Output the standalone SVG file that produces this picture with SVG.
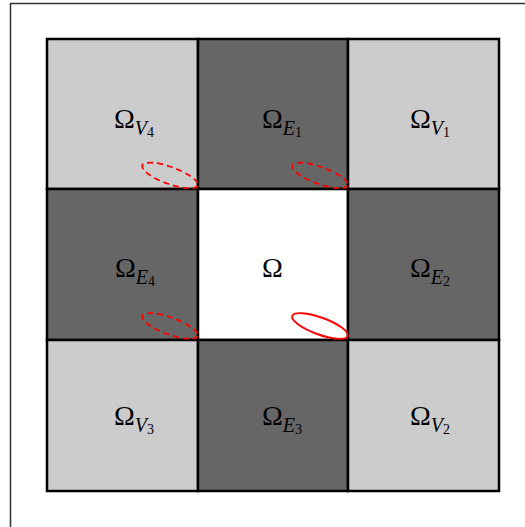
<svg xmlns="http://www.w3.org/2000/svg" width="525" height="527" viewBox="0 0 525 527">
<style>
.light{fill:#cccccc;stroke:#000;stroke-width:2.5}
.dark{fill:#666666;stroke:#000;stroke-width:2.5}
.white{fill:#ffffff;stroke:#000;stroke-width:2.5}
.lbl{font-family:"Liberation Serif","DejaVu Serif",serif;font-size:28px;fill:#000}
.sub{font-style:italic;font-size:20px}
.num{font-size:14px}
.dash{fill:none;stroke:#ff0000;stroke-width:1.8;stroke-dasharray:6,4}
.solid{fill:none;stroke:#ff0000;stroke-width:1.9}
</style>
<rect x="0" y="0" width="525" height="527" fill="#ffffff"/>
<path d="M10.5,527 V3.5 H525" fill="none" stroke="#333" stroke-width="1.5"/>
<g id="V4"><rect class="light" x="47" y="39" width="151" height="150"/><text class="lbl" x="114" y="128">Ω<tspan class="sub" dy="7">V</tspan><tspan class="num" dy="2">4</tspan></text></g>
<g id="E1"><rect class="dark" x="198" y="39" width="150" height="150"/><text class="lbl" x="262" y="128">Ω<tspan class="sub" dy="7">E</tspan><tspan class="num" dy="2">1</tspan></text></g>
<g id="V1"><rect class="light" x="348" y="39" width="151" height="150"/><text class="lbl" x="410" y="128">Ω<tspan class="sub" dy="7">V</tspan><tspan class="num" dy="2">1</tspan></text></g>
<g id="E4"><rect class="dark" x="47" y="189" width="151" height="151"/><text class="lbl" x="115" y="277">Ω<tspan class="sub" dy="7">E</tspan><tspan class="num" dy="2">4</tspan></text></g>
<g id="Omega"><rect class="white" x="198" y="189" width="150" height="151"/><text class="lbl" x="262" y="277">Ω</text></g>
<g id="E2"><rect class="dark" x="348" y="189" width="151" height="151"/><text class="lbl" x="410" y="277">Ω<tspan class="sub" dy="7">E</tspan><tspan class="num" dy="2">2</tspan></text></g>
<g id="V3"><rect class="light" x="47" y="340" width="151" height="151"/><text class="lbl" x="114" y="425">Ω<tspan class="sub" dy="7">V</tspan><tspan class="num" dy="2">3</tspan></text></g>
<g id="E3"><rect class="dark" x="198" y="340" width="150" height="151"/><text class="lbl" x="262" y="425">Ω<tspan class="sub" dy="7">E</tspan><tspan class="num" dy="2">3</tspan></text></g>
<g id="V2"><rect class="light" x="348" y="340" width="151" height="151"/><text class="lbl" x="410" y="425">Ω<tspan class="sub" dy="7">V</tspan><tspan class="num" dy="2">2</tspan></text></g>
<g id="connectors">
<ellipse class="dash" cx="170" cy="175.5" rx="29.5" ry="8.5" transform="rotate(20 170 175.5)"/>
<ellipse class="dash" cx="320" cy="175.5" rx="29.5" ry="8.5" transform="rotate(20 320 175.5)"/>
<ellipse class="dash" cx="170" cy="326" rx="29.5" ry="8.5" transform="rotate(20 170 326)"/>
<ellipse class="solid" cx="320" cy="326" rx="29.5" ry="8.5" transform="rotate(20 320 326)"/>
</g>
</svg>
